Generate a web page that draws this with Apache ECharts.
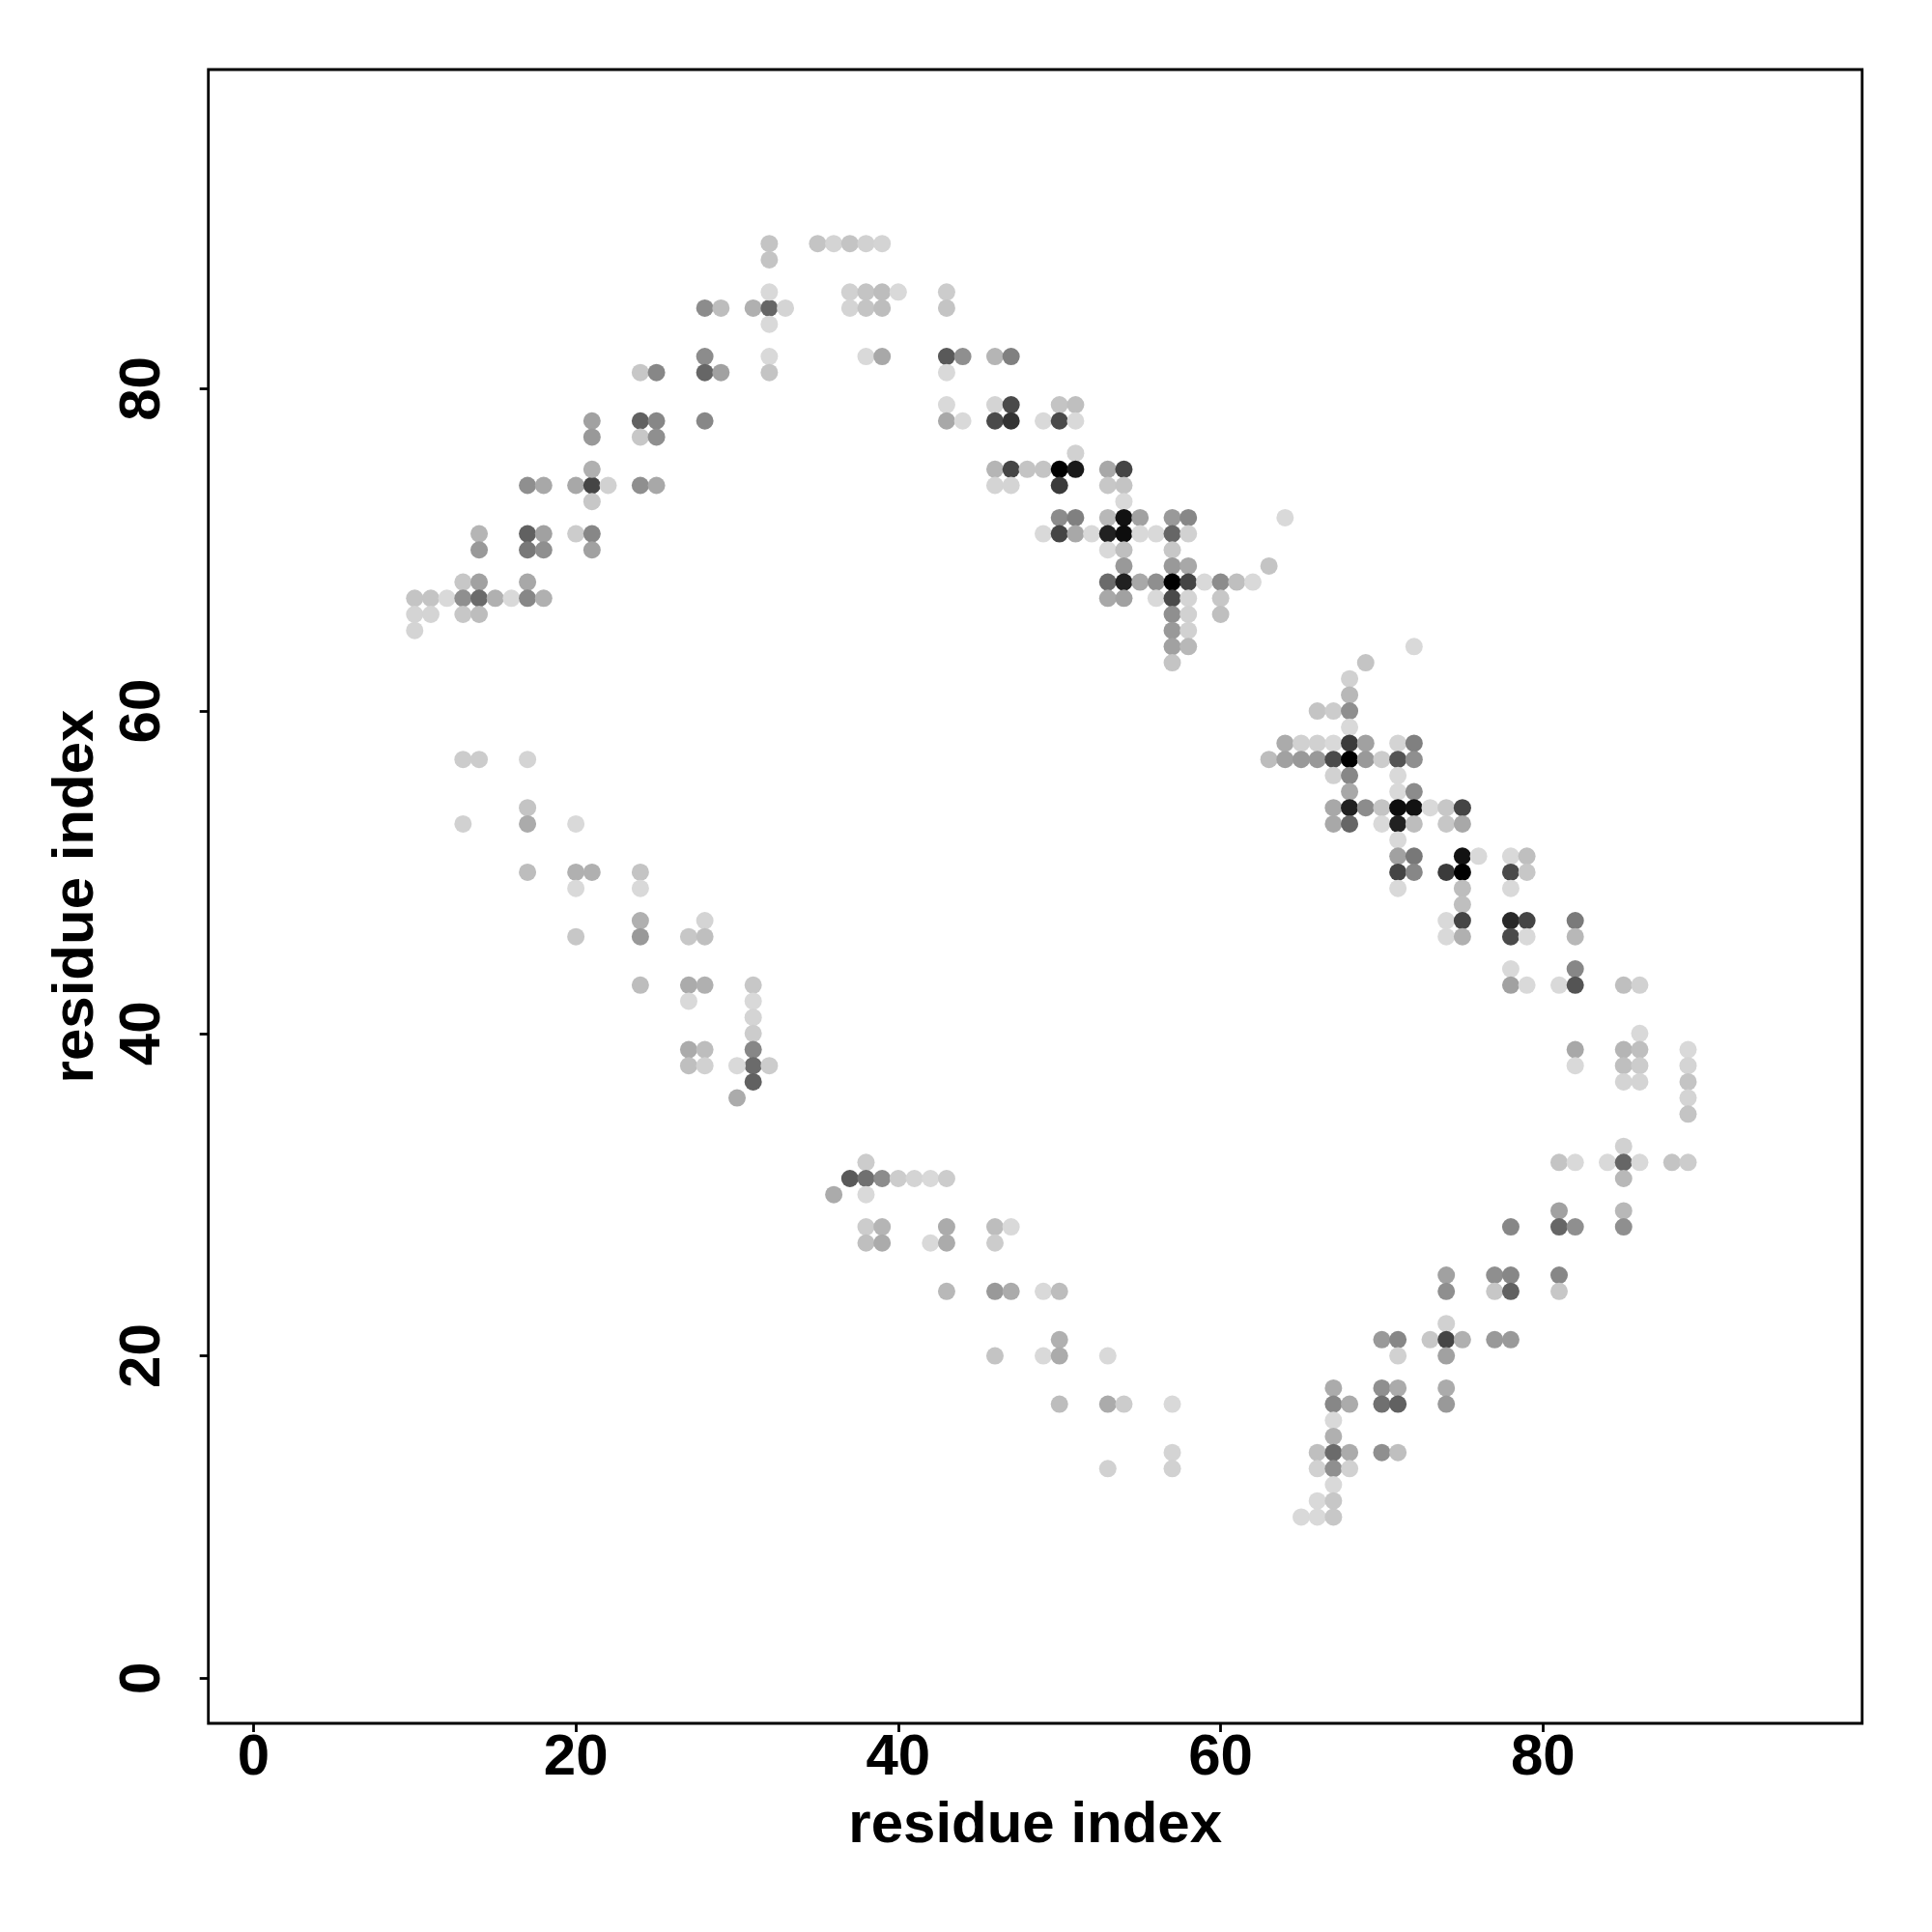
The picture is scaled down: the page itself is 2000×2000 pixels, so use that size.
<!DOCTYPE html>
<html>
<head>
<meta charset="utf-8">
<script src="https://cdn.jsdelivr.net/npm/echarts@6/dist/echarts.min.js"></script>
<style>
  html, body { margin: 0; padding: 0; background: #fff; }
  #chart { width: 2000px; height: 2000px; }
</style>
</head>
<body>
<div id="chart"></div>
<script>
// Each point: [residue index i, residue index j, contact frequency (0..1, drawn as darkness)]
const upperLeft = [
  [32,89,0.23],[32,88,0.23],[35,89,0.23],[36,89,0.17],[37,89,0.23],[38,89,0.18],[39,89,0.17],
  [28,85,0.45],[29,85,0.26],[31,85,0.31],[32,85,0.60],[33,85,0.17],[32,86,0.15],[32,84,0.15],
  [28,82,0.45],[28,81,0.60],[29,81,0.37],[32,82,0.15],[32,81,0.23],
  [24,81,0.22],[25,81,0.47],
  [21,78,0.37],[21,77,0.40],
  [24,78,0.62],[25,78,0.47],[24,77,0.22],[25,77,0.44],
  [28,78,0.47],
  [17,74,0.44],[18,74,0.34],[20,74,0.34],[21,74,0.73],[22,74,0.18],[21,75,0.31],[21,73,0.22],
  [24,74,0.44],[25,74,0.34],
  [14,71,0.29],[14,70,0.40],
  [17,71,0.62],[18,71,0.37],[17,70,0.53],[18,70,0.44],
  [20,71,0.20],[21,71,0.47],[21,70,0.37],
  [13,68,0.22],[14,68,0.37],[17,68,0.34],
  [10,67,0.23],[11,67,0.23],[12,67,0.15],[13,67,0.44],[14,67,0.58],[15,67,0.31],[16,67,0.15],[17,67,0.47],[18,67,0.31],
  [10,66,0.17],[11,66,0.17],[13,66,0.22],[14,66,0.26],
  [10,65,0.17]
];

const upperMid = [
  [37,86,0.18],[38,86,0.23],[39,86,0.26],[40,86,0.15],[43,86,0.20],
  [37,85,0.17],[38,85,0.23],[39,85,0.26],[43,85,0.23],
  [38,82,0.15],[39,82,0.34],[43,82,0.65],[44,82,0.44],[46,82,0.29],[47,82,0.50],
  [43,81,0.15],
  [43,79,0.15],[46,79,0.17],[47,79,0.71],[50,79,0.23],[51,79,0.25],
  [43,78,0.34],[44,78,0.15],[46,78,0.71],[47,78,0.80],[49,78,0.15],[50,78,0.71],[51,78,0.15],
  [51,76,0.18],
  [46,75,0.29],[47,75,0.73],[48,75,0.23],[49,75,0.23],[50,75,1.00],[51,75,0.90],[53,75,0.34],[54,75,0.73],
  [46,74,0.17],[47,74,0.17],[50,74,0.77],[53,74,0.22],[54,74,0.23],
  [54,73,0.15],
  [50,72,0.45],[51,72,0.50],[53,72,0.28],[54,72,0.93],[55,72,0.37],[57,72,0.40],[58,72,0.47],
  [49,71,0.15],[50,71,0.73],[51,71,0.34],[52,71,0.15],[53,71,0.87],[54,71,0.95],[55,71,0.15],[56,71,0.15],[57,71,0.60],[58,71,0.18],
  [53,70,0.15],[54,70,0.25],[57,70,0.22],
  [54,69,0.40],[57,69,0.40],[58,69,0.34],[63,69,0.23],
  [53,68,0.58],[54,68,0.87],[55,68,0.34],[56,68,0.44],[57,68,1.00],[58,68,0.73],[59,68,0.15],[60,68,0.45],[61,68,0.25],[62,68,0.15],
  [53,67,0.34],[54,67,0.37],[56,67,0.15],[57,67,0.71],[58,67,0.17],[60,67,0.22],
  [57,66,0.44],[58,66,0.18],[60,66,0.25],
  [57,65,0.40],[58,65,0.18],
  [57,64,0.37],[58,64,0.28],
  [57,63,0.23],
  [64,72,0.15],[72,64,0.15]
];

const rightMid = [
  [69,63,0.23],[68,62,0.18],[68,61,0.28],
  [66,60,0.23],[67,60,0.20],[68,60,0.44],
  [68,59,0.15],
  [64,58,0.33],[65,58,0.18],[66,58,0.18],[67,58,0.15],[68,58,0.77],[69,58,0.37],[71,58,0.17],[72,58,0.50],
  [63,57,0.26],[64,57,0.37],[65,57,0.40],[66,57,0.40],[67,57,0.71],[68,57,1.00],[69,57,0.40],[70,57,0.20],[71,57,0.67],[72,57,0.44],
  [67,56,0.18],[68,56,0.47],[71,56,0.15],
  [68,55,0.34],[71,55,0.15],[72,55,0.45],
  [67,54,0.34],[68,54,0.87],[69,54,0.45],[70,54,0.23],[71,54,0.95],[72,54,0.93],[73,54,0.15],[74,54,0.22],[75,54,0.73],
  [67,53,0.34],[68,53,0.60],[70,53,0.15],[71,53,0.87],[72,53,0.26],[74,53,0.22],[75,53,0.34],
  [71,52,0.15],
  [71,51,0.37],[72,51,0.53],[75,51,0.93],[76,51,0.15],[78,51,0.15],[79,51,0.25],
  [71,50,0.73],[72,50,0.47],[74,50,0.77],[75,50,1.00],[78,50,0.71],[79,50,0.22],
  [71,49,0.15],[75,49,0.26],[78,49,0.15],
  [75,48,0.25],
  [74,47,0.15],[75,47,0.73],[78,47,0.84],[79,47,0.73],[82,47,0.52],
  [74,46,0.15],[75,46,0.31],[78,46,0.71],[79,46,0.15],[82,46,0.28],
  [78,44,0.15],[82,44,0.47],
  [78,43,0.37],[79,43,0.15],[81,43,0.15],[82,43,0.67],[85,43,0.25],[86,43,0.18],
  [86,40,0.15],
  [82,39,0.34],[85,39,0.29],[86,39,0.25],[89,39,0.15],
  [82,38,0.15],[85,38,0.25],[86,38,0.20],[89,38,0.17],
  [85,37,0.17],[86,37,0.17],[89,37,0.23],
  [89,36,0.17],[89,35,0.23]
];

const lowerLeft = [
  [13,57,0.20],[14,57,0.20],[17,57,0.17],
  [17,54,0.23],[17,53,0.33],[13,53,0.18],[20,53,0.15],
  [17,50,0.26],[20,50,0.31],[21,50,0.31],[20,49,0.15],[24,50,0.23],[24,49,0.15],
  [24,47,0.31],[24,46,0.40],[20,46,0.22],[27,46,0.22],[28,47,0.17],[28,46,0.25],
  [24,43,0.26],[27,43,0.33],[28,43,0.31],[27,42,0.15],
  [31,43,0.22],[31,42,0.15],[31,41,0.17],[31,40,0.20],[31,39,0.47],[31,38,0.58],[31,37,0.62],[30,38,0.15],[32,38,0.20],[30,36,0.33],
  [27,39,0.33],[28,39,0.26],[27,38,0.25],[28,38,0.18]
];

const lowerMid = [
  [38,32,0.20],
  [37,31,0.65],[38,31,0.56],[39,31,0.45],[40,31,0.20],[41,31,0.17],[42,31,0.15],[43,31,0.20],
  [36,30,0.33],[38,30,0.15],
  [38,28,0.20],[39,28,0.29],[43,28,0.33],[46,28,0.26],[47,28,0.15],
  [38,27,0.25],[39,27,0.33],[42,27,0.15],[43,27,0.33],[46,27,0.20],
  [43,24,0.28],[46,24,0.40],[47,24,0.33],[49,24,0.15],[50,24,0.26],
  [50,21,0.31],
  [46,20,0.23],[49,20,0.15],[50,20,0.33],[53,20,0.15],
  [50,17,0.26],[53,17,0.33],[54,17,0.20],[57,17,0.15],
  [57,14,0.17],
  [53,13,0.18],[57,13,0.18]
];

const lowerRight = [
  [85,33,0.18],
  [81,32,0.23],[82,32,0.15],[84,32,0.15],[85,32,0.60],[86,32,0.15],[88,32,0.23],[89,32,0.20],
  [85,31,0.28],
  [81,29,0.37],[85,29,0.28],
  [78,28,0.47],[81,28,0.60],[82,28,0.44],[85,28,0.44],
  [74,25,0.37],[77,25,0.44],[78,25,0.47],[81,25,0.47],
  [74,24,0.44],[77,24,0.22],[78,24,0.62],[81,24,0.22],
  [74,22,0.18],
  [70,21,0.40],[71,21,0.47],[73,21,0.22],[74,21,0.73],[75,21,0.31],[77,21,0.40],[78,21,0.40],
  [71,20,0.18],[74,20,0.37],
  [67,18,0.33],[70,18,0.44],[71,18,0.33],[74,18,0.33],
  [67,17,0.47],[68,17,0.33],[70,17,0.56],[71,17,0.62],[74,17,0.40],
  [67,16,0.15],
  [67,15,0.31],
  [66,14,0.25],[67,14,0.58],[68,14,0.33],[70,14,0.44],[71,14,0.25],
  [66,13,0.18],[67,13,0.44],[68,13,0.18],
  [67,12,0.15],
  [66,11,0.15],[67,11,0.22],
  [65,10,0.15],[66,10,0.15],[67,10,0.22]
];

const xTicks = [0, 20, 40, 60, 80];
const yTicks = [0, 20, 40, 60, 80];
const axisTitleX = 'residue index';
const axisTitleY = 'residue index';

const allPoints = [].concat(upperLeft, upperMid, rightMid, lowerLeft, lowerMid, lowerRight);

function shade(freq) {
  const v = Math.round(255 * (1 - freq));
  return 'rgb(' + v + ',' + v + ',' + v + ')';
}

const FONT = "'Liberation Sans', Arial, Helvetica, sans-serif";
const chart = echarts.init(document.getElementById('chart'), null, { renderer: 'canvas' });

chart.setOption({
  animation: false,
  backgroundColor: '#ffffff',
  grid: {
    left: 215.7, top: 72, width: 1712, height: 1712,
    show: true, borderColor: '#000', borderWidth: 2.8, backgroundColor: 'transparent'
  },
  xAxis: {
    type: 'value', min: -2.8, max: 99.8,
    axisLine: { show: false, onZero: false },
    splitLine: { show: false },
    axisTick: { show: true, customValues: xTicks, length: 9, inside: false, lineStyle: { color: '#000', width: 2.8 } },
    axisLabel: { customValues: xTicks, fontSize: 60, fontWeight: 'bold', fontFamily: FONT, color: '#000', margin: 6 },
    name: axisTitleX, nameLocation: 'middle', nameGap: 76,
    nameTextStyle: { fontSize: 60, fontWeight: 'bold', fontFamily: FONT, color: '#000' }
  },
  yAxis: {
    type: 'value', min: -2.8, max: 99.8,
    axisLine: { show: false, onZero: false },
    splitLine: { show: false },
    axisTick: { show: true, customValues: yTicks, length: 9, inside: false, lineStyle: { color: '#000', width: 2.8 } },
    axisLabel: { customValues: yTicks, rotate: 90, fontSize: 60, fontWeight: 'bold', fontFamily: FONT, color: '#000', margin: 37 },
    name: axisTitleY, nameLocation: 'middle', nameGap: 106,
    nameTextStyle: { fontSize: 60, fontWeight: 'bold', fontFamily: FONT, color: '#000' }
  },
  series: [{
    type: 'scatter',
    data: allPoints,
    symbol: 'circle',
    symbolSize: 18,
    itemStyle: {
      color: function (p) { return shade(p.value[2]); },
      opacity: 1
    },
    emphasis: { disabled: true }
  }]
});
</script>
</body>
</html>
